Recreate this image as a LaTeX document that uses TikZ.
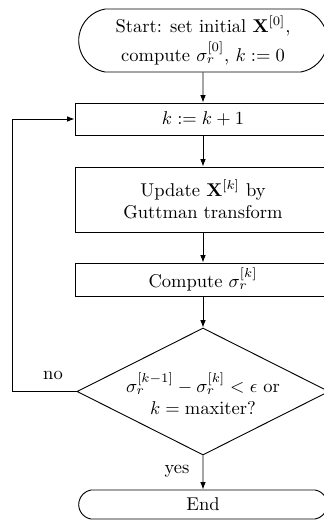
\documentclass[tikz,border=0pt]{standalone}
\usetikzlibrary{shapes.misc,shapes.geometric,arrows.meta}
\begin{document}
\begin{tikzpicture}[x=0.54pt,y=-0.54pt,
  >={Latex[length=4pt,width=3pt]}, line width=0.5pt,
  box/.style={draw, rectangle, minimum width=256*0.54pt, inner sep=2pt, align=center},
  term/.style={draw, rounded rectangle, rounded rectangle arc length=160, minimum width=256*0.54pt, inner sep=2pt, align=center},
  decision/.style={draw, diamond, minimum width=252*0.54pt, minimum height=127*0.54pt, inner sep=0pt},
  lbl/.style={inner sep=0pt}]
\clip (0,0) rectangle (324,520);
\node[term, minimum height=63*0.54pt] (start) at (203,40.5)
  {Start: set initial $\mathbf{X}^{[0]}$,\\[2pt] compute $\sigma_r^{[0]}$, $k:=0$};
\node[box, minimum height=32*0.54pt] (inc) at (203,119) {$k:=k+1$};
\node[box, minimum height=65*0.54pt] (upd) at (203,199.5) {Update $\mathbf{X}^{[k]}$ by\\ Guttman transform};
\node[box, minimum height=33*0.54pt] (comp) at (203,279.5) {Compute $\sigma_r^{[k]}$};
\node[decision, label={[align=center, yshift=-1.2pt]center:{$\sigma_r^{[k-1]}-\sigma_r^{[k]}<\epsilon$ or\\ $k=\mathrm{maxiter}$?}}] (dec) at (203,391.5) {};
\node[term, minimum height=29*0.54pt] (end) at (203,504.5) {End};
\coordinate (lx) at (12,250);
\draw[->] (start) -- (inc);
\draw[->] (inc) -- (upd);
\draw[->] (upd) -- (comp);
\draw[->] (comp) -- (dec);
\draw[->] (dec) -- (end);
\draw[->] (dec.west) -- (dec.west -| lx) |- (inc.west);
\node[lbl] (no) at (53,375) {no};
\node[lbl] (yes) at (177,471) {yes};
\end{tikzpicture}
\end{document}
